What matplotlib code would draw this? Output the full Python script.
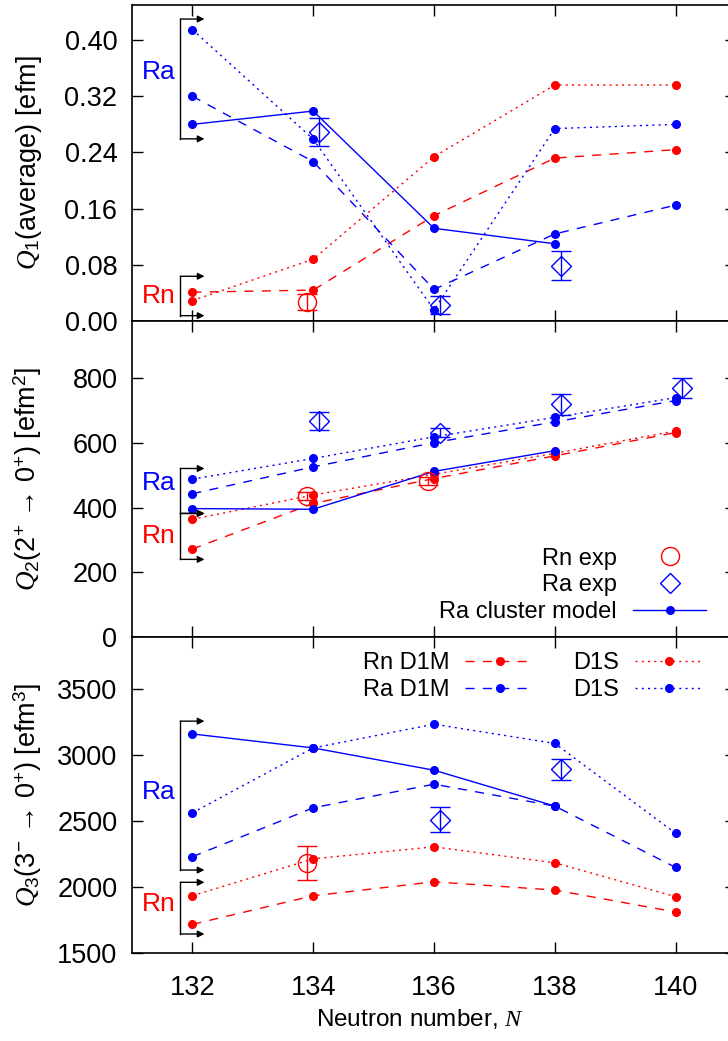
import numpy as np
import matplotlib
matplotlib.use("Agg")
import matplotlib.pyplot as plt

plt.rcParams['font.family'] = ['Liberation Sans', 'DejaVu Sans']
plt.rcParams['mathtext.fontset'] = 'custom'
plt.rcParams['mathtext.rm'] = 'Liberation Sans'
plt.rcParams['mathtext.it'] = 'Liberation Serif:italic'

# --- data ---
N = [132, 134, 136, 138, 140]
N_cl = [132, 134, 136, 138]

# Q1 (average) [efm]
q1_rn_d1m = [0.041, 0.044, 0.150, 0.232, 0.244]
q1_rn_d1s = [0.029, 0.088, 0.234, 0.336, 0.336]
q1_ra_d1m = [0.320, 0.227, 0.045, 0.124, 0.165]
q1_ra_d1s = [0.415, 0.259, 0.016, 0.274, 0.280]
q1_ra_cl = [0.280, 0.299, 0.132, 0.110]
q1_rn_exp_N = [134]
q1_rn_exp = [0.027]
q1_rn_exp_err = [0.012]
q1_ra_exp_N = [134, 136, 138]
q1_ra_exp = [0.269, 0.023, 0.079]
q1_ra_exp_err = [0.020, 0.013, 0.020]

# Q2 (2+ -> 0+) [efm2]
q2_rn_d1m = [272, 413, 490, 560, 632]
q2_rn_d1s = [364, 439, 503, 568, 637]
q2_ra_d1m = [443, 526, 601, 665, 731]
q2_ra_d1s = [488, 552, 619, 679, 740]
q2_ra_cl = [397, 395, 512, 576]
q2_rn_exp_N = [134, 136]
q2_rn_exp = [437, 483]
q2_rn_exp_err = [12, 12]
q2_ra_exp_N = [134, 136, 138, 140]
q2_ra_exp = [668, 632, 719, 769]
q2_ra_exp_err = [28, 15, 32, 31]

# Q3 (3- -> 0+) [efm3]
q3_rn_d1m = [1717, 1934, 2040, 1977, 1811]
q3_rn_d1s = [1934, 2214, 2305, 2184, 1927]
q3_ra_d1m = [2230, 2601, 2780, 2614, 2149]
q3_ra_d1s = [2563, 3055, 3235, 3089, 2407]
q3_ra_cl = [3161, 3055, 2886, 2614]
q3_rn_exp_N = [134]
q3_rn_exp = [2180]
q3_rn_exp_err = [130]
q3_ra_exp_N = [136, 138]
q3_ra_exp = [2510, 2892]
q3_ra_exp_err = [95, 80]

# bracket ranges (Ra, Rn) and label heights per panel
brackets = [
    {'Ra': (0.2594, 0.43), 'Rn': (0.0076, 0.0637), 'Ra_lab': 0.354, 'Rn_lab': 0.036},
    {'Ra': (382, 521), 'Rn': (240, 382), 'Ra_lab': 477, 'Rn_lab': 312},
    {'Ra': (2129, 3258), 'Rn': (1644, 2036), 'Ra_lab': 2722, 'Rn_lab': 1871},
]

ylabels = ['$Q_1$(average) [efm]',
           '$Q_2$(2$^{+}$ \u2192 0$^{+}$) [efm$^2$]',
           '$Q_3$(3$^{-}$ \u2192 0$^{+}$) [efm$^3$]']
ylims = [(0, 0.45), (0, 977), (1500, 3896)]
yticks = [np.arange(0, 0.41, 0.08), np.arange(0, 801, 200), np.arange(1500, 3501, 500)]

RED = '#ff0000'
BLUE = '#0000ff'
DASH = (0, (6.5, 6))
DOT = (0, (1.5, 3))
FS = 19.5
FS_LEG = 17

fig = plt.figure(figsize=(7.28, 10.41), dpi=100)
left = 132 / 728
width = 604 / 728
h = 316 / 1041
bottoms = [1 - 321 / 1041, 1 - 637 / 1041, 1 - 953 / 1041]
axes = [fig.add_axes([left, b, width, h]) for b in bottoms]

panels = [
    (q1_rn_d1m, q1_rn_d1s, q1_ra_d1m, q1_ra_d1s, q1_ra_cl,
     q1_rn_exp_N, q1_rn_exp, q1_rn_exp_err, q1_ra_exp_N, q1_ra_exp, q1_ra_exp_err),
    (q2_rn_d1m, q2_rn_d1s, q2_ra_d1m, q2_ra_d1s, q2_ra_cl,
     q2_rn_exp_N, q2_rn_exp, q2_rn_exp_err, q2_ra_exp_N, q2_ra_exp, q2_ra_exp_err),
    (q3_rn_d1m, q3_rn_d1s, q3_ra_d1m, q3_ra_d1s, q3_ra_cl,
     q3_rn_exp_N, q3_rn_exp, q3_rn_exp_err, q3_ra_exp_N, q3_ra_exp, q3_ra_exp_err),
]

legend_handles = {}
for i, (ax, p) in enumerate(zip(axes, panels)):
    (rn_d1m, rn_d1s, ra_d1m, ra_d1s, ra_cl,
     rn_eN, rn_e, rn_err, ra_eN, ra_e, ra_err) = p
    kw = dict(marker='o', ms=5.5, lw=1)
    l1, = ax.plot(N, rn_d1m, color=RED, ls=DASH, label='Rn D1M', **kw)
    l2, = ax.plot(N, ra_d1m, color=BLUE, ls=DASH, label='Ra D1M', **kw)
    l3, = ax.plot(N, rn_d1s, color=RED, ls=DOT, label='D1S', **kw)
    l4, = ax.plot(N, ra_d1s, color=BLUE, ls=DOT, label='D1S', **kw)
    l5, = ax.plot(N_cl, ra_cl, color=BLUE, ls='-', label='Ra cluster model', **kw)

    # experiment, slightly shifted as in the original
    rnx = np.array(rn_eN) - 0.1
    rax = np.array(ra_eN) + 0.1
    ax.errorbar(rnx, rn_e, yerr=rn_err, fmt='none', ecolor=RED, elinewidth=1,
                capsize=7, capthick=1)
    ax.errorbar(rax, ra_e, yerr=ra_err, fmt='none', ecolor=BLUE, elinewidth=1,
                capsize=7, capthick=1)
    e1, = ax.plot(rnx, rn_e, ls='none', marker='o', ms=13, mfc='none', mec=RED,
                  mew=1, label='Rn exp')
    e2, = ax.plot(rax, ra_e, ls='none', marker='D', ms=10, mfc='none', mec=BLUE,
                  mew=1, label='Ra exp')
    legend_handles[i] = (l1, l2, l3, l4, l5, e1, e2)

    # brackets marking the groups at N = 132
    br = brackets[i]
    for key, col in (('Ra', BLUE), ('Rn', RED)):
        lo, hi = br[key]
        ax.plot([131.8, 131.8], [lo, hi], color='black', lw=1, clip_on=False)
        for yv in (lo, hi):
            ax.annotate('', xy=(132.2, yv), xytext=(131.8, yv),
                        arrowprops=dict(arrowstyle='-|>', color='black', lw=1,
                                        mutation_scale=10, shrinkA=0, shrinkB=0))
        ax.text(131.72, br[key + '_lab'], key, color=col, fontsize=19,
                ha='right', va='center')

    ax.set_xlim(131, 141)
    ax.set_ylim(*ylims[i])
    ax.set_yticks(yticks[i])
    ax.set_xticks(N)
    ax.set_ylabel(ylabels[i], fontsize=FS)
    ax.yaxis.set_label_coords(-0.146, 0.5)
    ax.tick_params(direction='in', length=8, width=1, top=True, right=True,
                   labelsize=FS)
    ax.tick_params(axis='y', pad=10.5)
    ax.tick_params(axis='x', pad=16)
    for s in ax.spines.values():
        s.set_linewidth(1.2)
    if i < 2:
        ax.tick_params(labelbottom=False)

axes[0].yaxis.set_major_formatter(matplotlib.ticker.FormatStrFormatter('%.2f'))
axes[2].set_xlabel('Neutron number, $N$', fontsize=17.5)
axes[2].xaxis.set_label_coords(0.477, -0.171)

# legends
h = legend_handles[1]
axes[1].legend([h[5], h[6], h[4]], ['Rn exp', 'Ra exp', 'Ra cluster model'],
               loc='lower right', bbox_to_anchor=(0.978, -0.008), frameon=False,
               markerfirst=False, fontsize=FS_LEG, handlelength=3.1,
               handletextpad=0.7, labelspacing=0.2, borderpad=0.2)
h = legend_handles[2]
axes[2].legend([h[0], h[1], h[2], h[3]], ['Rn D1M', 'Ra D1M', 'D1S', 'D1S'],
               ncol=2, loc='upper right', bbox_to_anchor=(0.977, 1.013), frameon=False,
               markerfirst=False, fontsize=FS_LEG, handlelength=2.9,
               handletextpad=0.68, labelspacing=0.22, columnspacing=1.65,
               borderpad=0.3)

fig.savefig('out.png', dpi=100)
